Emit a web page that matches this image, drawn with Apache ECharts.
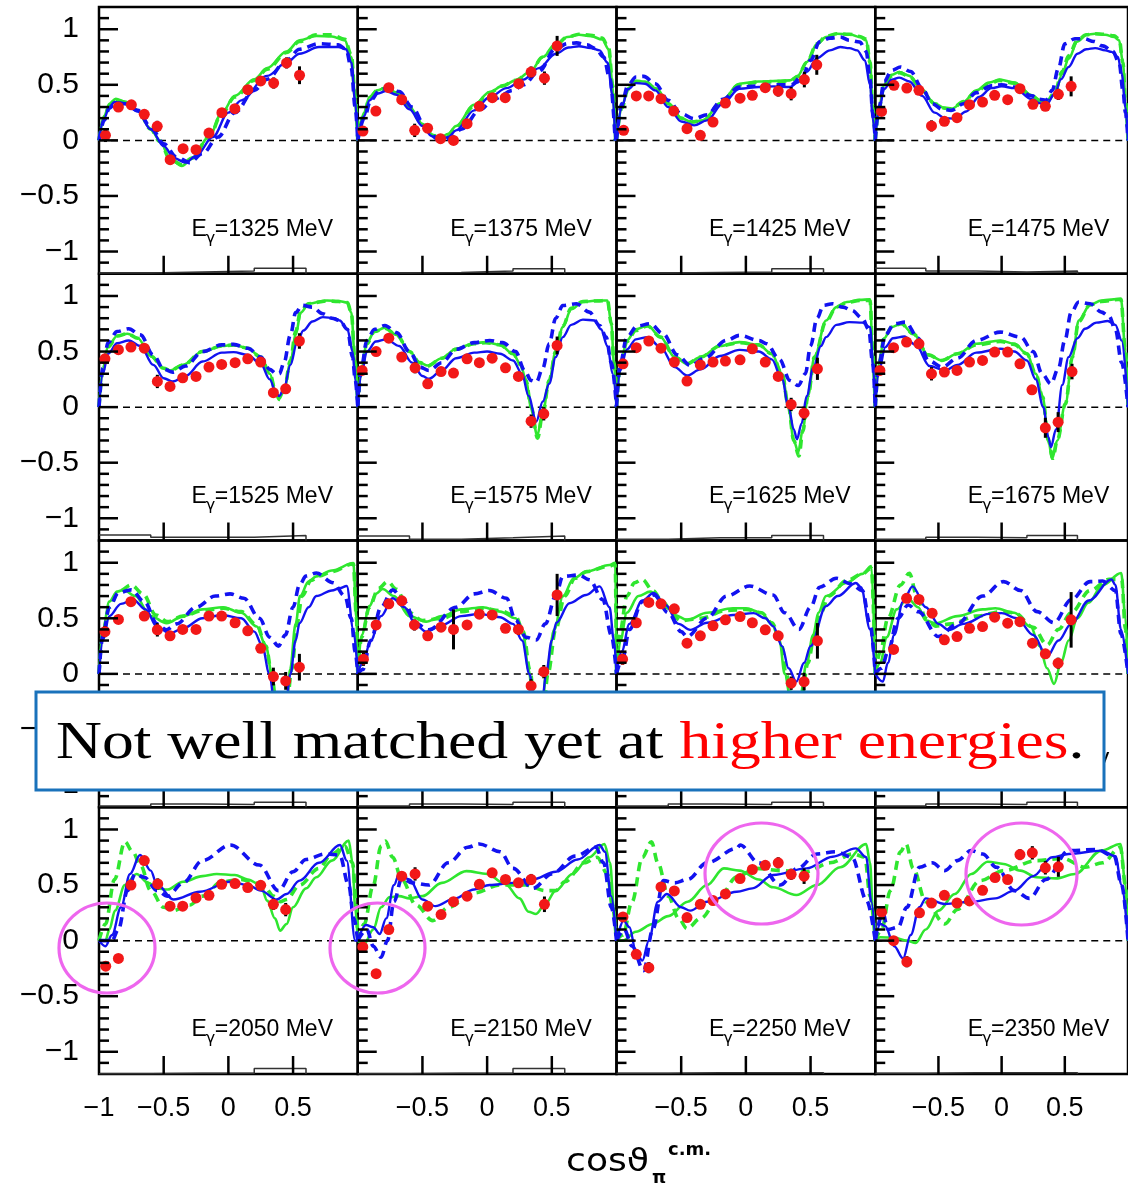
<!DOCTYPE html>
<html><head><meta charset="utf-8">
<script src="https://cdn.jsdelivr.net/npm/echarts@6/dist/echarts.min.js"></script>
<style>html,body{margin:0;padding:0;background:#fff}#c{width:1128px;height:1183px}</style>
</head><body><div id="c"></div>
<script>
// ---------------- data ----------------
const energies = [1325,1375,1425,1475, 1525,1575,1625,1675, 1725,1775,1850,1950, 2050,2150,2250,2350];
const yMajorTicks = [-1,-0.5,0,0.5,1];
const yMinorTicks = [-1.1,-0.9,-0.8,-0.7,-0.6,-0.4,-0.3,-0.2,-0.1,0.1,0.2,0.3,0.4,0.6,0.7,0.8,0.9,1.1];
const xMajorTicks = [-0.5,0,0.5];
const xLabelsFirstCol = [-1,-0.5,0,0.5];
const xLabelsOtherCols = [-0.5,0,0.5];
const sysBinEdges = [-1,-0.6,-0.2,0.2,0.6];

// measured points: [cos theta, value, error]
const dataPts = [
 [[-0.95,0.045,0.06],[-0.85,0.30,0.03],[-0.75,0.32,0.03],[-0.65,0.234,0.04],[-0.55,0.126,0.05],[-0.45,-0.174,0.04],[-0.35,-0.075,0.04],[-0.25,-0.084,0.04],[-0.15,0.066,0.04],[-0.05,0.249,0.04],[0.05,0.285,0.04],[0.15,0.456,0.04],[0.25,0.535,0.04],[0.35,0.516,0.05],[0.45,0.697,0.05],[0.55,0.586,0.08]],
 [[-0.96,0.084,0.04],[-0.86,0.264,0.03],[-0.76,0.474,0.03],[-0.66,0.366,0.04],[-0.56,0.09,0.06],[-0.46,0.11,0.04],[-0.36,0.015,0.04],[-0.26,0.0,0.03],[-0.155,0.15,0.03],[-0.06,0.306,0.03],[0.04,0.384,0.03],[0.14,0.384,0.03],[0.245,0.51,0.04],[0.34,0.615,0.05],[0.443,0.56,0.06],[0.541,0.85,0.09]],
 [[-0.945,0.09,0.04],[-0.847,0.40,0.03],[-0.751,0.40,0.03],[-0.656,0.375,0.04],[-0.558,0.264,0.04],[-0.455,0.105,0.04],[-0.352,0.045,0.04],[-0.254,0.165,0.04],[-0.158,0.336,0.04],[-0.045,0.38,0.04],[0.05,0.405,0.04],[0.15,0.474,0.04],[0.25,0.444,0.05],[0.35,0.42,0.06],[0.452,0.547,0.07],[0.548,0.68,0.09]],
 [[-0.95,0.26,0.04],[-0.852,0.495,0.03],[-0.75,0.471,0.03],[-0.654,0.45,0.03],[-0.555,0.13,0.05],[-0.453,0.171,0.03],[-0.353,0.204,0.03],[-0.254,0.321,0.03],[-0.151,0.345,0.03],[-0.055,0.405,0.03],[0.048,0.366,0.03],[0.145,0.465,0.03],[0.248,0.324,0.04],[0.346,0.306,0.04],[0.449,0.414,0.05],[0.55,0.486,0.09]],
 [[-0.954,0.435,0.04],[-0.85,0.517,0.03],[-0.753,0.54,0.03],[-0.65,0.53,0.03],[-0.549,0.231,0.06],[-0.451,0.186,0.03],[-0.353,0.264,0.03],[-0.25,0.276,0.03],[-0.15,0.36,0.03],[-0.052,0.384,0.03],[0.052,0.40,0.03],[0.15,0.435,0.03],[0.25,0.405,0.03],[0.348,0.13,0.04],[0.443,0.165,0.04],[0.549,0.595,0.07]],
 [[-0.966,0.33,0.04],[-0.858,0.50,0.03],[-0.76,0.62,0.03],[-0.66,0.45,0.03],[-0.557,0.354,0.05],[-0.459,0.21,0.03],[-0.356,0.32,0.03],[-0.26,0.306,0.03],[-0.155,0.435,0.03],[-0.06,0.40,0.03],[0.039,0.44,0.03],[0.142,0.354,0.03],[0.242,0.276,0.04],[0.34,-0.126,0.06],[0.438,-0.06,0.06],[0.541,0.555,0.08]],
 [[-0.95,0.39,0.04],[-0.847,0.535,0.03],[-0.75,0.595,0.03],[-0.656,0.53,0.03],[-0.553,0.405,0.03],[-0.455,0.234,0.03],[-0.352,0.38,0.03],[-0.254,0.405,0.03],[-0.158,0.414,0.03],[-0.045,0.426,0.03],[0.05,0.525,0.03],[0.15,0.405,0.03],[0.25,0.276,0.04],[0.35,0.024,0.06],[0.45,-0.054,0.06],[0.553,0.345,0.1]],
 [[-0.963,0.33,0.04],[-0.855,0.535,0.03],[-0.752,0.585,0.03],[-0.654,0.57,0.04],[-0.555,0.30,0.06],[-0.453,0.315,0.03],[-0.353,0.33,0.03],[-0.254,0.405,0.03],[-0.151,0.42,0.03],[-0.055,0.495,0.03],[0.048,0.495,0.03],[0.145,0.39,0.03],[0.24,0.156,0.04],[0.346,-0.186,0.09],[0.447,-0.135,0.09],[0.557,0.32,0.07]],
 [[-0.954,0.38,0.05],[-0.85,0.49,0.04],[-0.753,0.65,0.03],[-0.65,0.52,0.03],[-0.549,0.396,0.06],[-0.451,0.342,0.03],[-0.353,0.40,0.03],[-0.25,0.40,0.03],[-0.15,0.52,0.03],[-0.052,0.52,0.03],[0.052,0.46,0.03],[0.15,0.387,0.03],[0.25,0.23,0.04],[0.348,-0.024,0.08],[0.443,-0.063,0.08],[0.549,0.06,0.12]],
 [[-0.956,0.132,0.06],[-0.858,0.44,0.04],[-0.76,0.63,0.03],[-0.66,0.657,0.04],[-0.562,0.44,0.05],[-0.459,0.342,0.03],[-0.356,0.42,0.03],[-0.26,0.40,0.18],[-0.155,0.44,0.03],[-0.06,0.537,0.03],[0.039,0.53,0.03],[0.142,0.41,0.03],[0.242,0.40,0.05],[0.34,-0.108,0.06],[0.438,0.02,0.06],[0.541,0.71,0.19]],
 [[-0.953,0.132,0.05],[-0.847,0.46,0.04],[-0.75,0.643,0.03],[-0.656,0.63,0.03],[-0.553,0.585,0.04],[-0.455,0.276,0.03],[-0.352,0.342,0.03],[-0.254,0.432,0.03],[-0.158,0.486,0.03],[-0.045,0.516,0.03],[0.05,0.46,0.03],[0.15,0.396,0.03],[0.25,0.342,0.04],[0.35,-0.084,0.06],[0.45,-0.07,0.08],[0.553,0.297,0.16]],
 [[-0.855,0.22,0.04],[-0.752,0.68,0.03],[-0.654,0.67,0.03],[-0.55,0.546,0.04],[-0.453,0.306,0.03],[-0.353,0.336,0.03],[-0.254,0.41,0.03],[-0.151,0.426,0.03],[-0.055,0.51,0.03],[0.048,0.456,0.03],[0.145,0.47,0.03],[0.244,0.276,0.04],[0.346,0.18,0.04],[0.447,0.096,0.05],[0.55,0.486,0.25]],
 [[-0.948,-0.23,0.04],[-0.85,-0.16,0.04],[-0.753,0.5,0.04],[-0.65,0.72,0.04],[-0.546,0.51,0.05],[-0.451,0.31,0.04],[-0.353,0.31,0.03],[-0.25,0.384,0.03],[-0.15,0.408,0.03],[-0.052,0.507,0.03],[0.052,0.513,0.03],[0.15,0.477,0.03],[0.25,0.498,0.04],[0.348,0.327,0.05],[0.443,0.279,0.06]],
 [[-0.961,-0.057,0.04],[-0.858,-0.297,0.04],[-0.76,0.099,0.04],[-0.66,0.58,0.04],[-0.557,0.6,0.06],[-0.459,0.31,0.04],[-0.356,0.234,0.03],[-0.26,0.35,0.03],[-0.155,0.40,0.03],[-0.06,0.507,0.03],[0.039,0.61,0.03],[0.142,0.55,0.03],[0.242,0.52,0.04],[0.34,0.55,0.05],[0.443,0.327,0.07]],
 [[-0.95,0.213,0.04],[-0.847,-0.123,0.04],[-0.75,-0.243,0.05],[-0.656,0.483,0.04],[-0.553,0.447,0.04],[-0.455,0.207,0.04],[-0.352,0.327,0.03],[-0.254,0.36,0.03],[-0.158,0.42,0.03],[-0.045,0.558,0.03],[0.05,0.64,0.03],[0.15,0.678,0.04],[0.25,0.70,0.05],[0.35,0.597,0.05],[0.45,0.58,0.07]],
 [[-0.95,0.256,0.04],[-0.855,0.0,0.04],[-0.75,-0.19,0.05],[-0.65,0.25,0.04],[-0.555,0.338,0.04],[-0.453,0.408,0.04],[-0.353,0.338,0.03],[-0.254,0.357,0.03],[-0.151,0.453,0.03],[-0.052,0.567,0.03],[0.048,0.55,0.04],[0.145,0.774,0.05],[0.243,0.79,0.06],[0.346,0.655,0.06],[0.449,0.664,0.09]]
];

const greenSolid = [
 [[-1,0],[-0.96,0.22],[-0.92,0.33],[-0.87,0.375],[-0.8,0.35],[-0.7,0.27],[-0.6,0.1],[-0.53,0],[-0.45,-0.17],[-0.36,-0.23],[-0.28,-0.16],[-0.15,0.03],[-0.05,0.25],[0.05,0.4],[0.2,0.55],[0.3,0.65],[0.45,0.8],[0.55,0.9],[0.68,0.94],[0.8,0.935],[0.9,0.9],[0.95,0.75],[0.98,0.4],[1,0]],
 [[-1,0],[-0.95,0.25],[-0.91,0.39],[-0.85,0.45],[-0.78,0.474],[-0.7,0.43],[-0.6,0.3],[-0.5,0.15],[-0.42,0.05],[-0.37,0.015],[-0.3,0.06],[-0.24,0.13],[-0.1,0.32],[0.02,0.435],[0.12,0.49],[0.22,0.54],[0.33,0.615],[0.43,0.75],[0.53,0.856],[0.62,0.93],[0.71,0.95],[0.8,0.94],[0.89,0.907],[0.94,0.82],[0.97,0.5],[0.99,0]],
 [[-1,0],[-0.96,0.3],[-0.91,0.47],[-0.85,0.535],[-0.78,0.53],[-0.7,0.47],[-0.6,0.33],[-0.5,0.2],[-0.42,0.165],[-0.33,0.18],[-0.2,0.33],[-0.05,0.51],[0.1,0.53],[0.25,0.535],[0.34,0.54],[0.4,0.58],[0.47,0.705],[0.55,0.87],[0.62,0.93],[0.7,0.96],[0.8,0.955],[0.88,0.93],[0.93,0.9],[0.96,0.7],[0.98,0.3],[1,0]],
 [[-1,0],[-0.97,0.3],[-0.93,0.5],[-0.87,0.59],[-0.81,0.615],[-0.73,0.58],[-0.63,0.45],[-0.53,0.33],[-0.45,0.29],[-0.396,0.285],[-0.3,0.35],[-0.2,0.45],[-0.1,0.52],[-0.017,0.547],[0.1,0.52],[0.24,0.405],[0.3,0.36],[0.356,0.345],[0.42,0.42],[0.48,0.6],[0.53,0.735],[0.6,0.89],[0.67,0.95],[0.737,0.96],[0.82,0.95],[0.89,0.93],[0.93,0.9],[0.96,0.7],[0.98,0.35],[1,0]],
 [[-1,0],[-0.97,0.35],[-0.93,0.55],[-0.86,0.64],[-0.78,0.66],[-0.7,0.62],[-0.6,0.46],[-0.5,0.35],[-0.45,0.33],[-0.35,0.38],[-0.2,0.5],[-0.05,0.55],[0.04,0.56],[0.15,0.53],[0.25,0.45],[0.32,0.3],[0.37,0.12],[0.394,0.075],[0.43,0.15],[0.48,0.4],[0.52,0.65],[0.56,0.85],[0.62,0.93],[0.76,0.96],[0.85,0.955],[0.92,0.94],[0.95,0.85],[0.98,0.4],[1,0]],
 [[-1,0],[-0.97,0.35],[-0.93,0.58],[-0.87,0.68],[-0.79,0.715],[-0.7,0.65],[-0.6,0.5],[-0.52,0.4],[-0.46,0.375],[-0.35,0.44],[-0.24,0.525],[-0.1,0.575],[-0.01,0.585],[0.1,0.56],[0.2,0.48],[0.26,0.38],[0.3,0.24],[0.34,0.0],[0.387,-0.255],[0.43,-0.05],[0.48,0.24],[0.53,0.5],[0.585,0.72],[0.65,0.88],[0.74,0.946],[0.85,0.96],[0.93,0.96],[0.96,0.75],[0.98,0.4],[1,0]],
 [[-1,0],[-0.97,0.38],[-0.92,0.6],[-0.85,0.7],[-0.76,0.735],[-0.66,0.63],[-0.55,0.45],[-0.455,0.39],[-0.35,0.45],[-0.2,0.55],[-0.05,0.585],[0.1,0.56],[0.2,0.48],[0.28,0.3],[0.33,0.0],[0.37,-0.3],[0.405,-0.405],[0.44,-0.2],[0.48,0.1],[0.53,0.45],[0.62,0.78],[0.7,0.9],[0.78,0.946],[0.88,0.965],[0.96,0.97],[0.98,0.5],[1,0]],
 [[-1,0],[-0.97,0.4],[-0.93,0.62],[-0.87,0.72],[-0.795,0.75],[-0.7,0.66],[-0.58,0.47],[-0.474,0.42],[-0.35,0.48],[-0.2,0.57],[-0.01,0.6],[0.1,0.57],[0.2,0.48],[0.27,0.3],[0.325,0.09],[0.37,-0.3],[0.4,-0.465],[0.44,-0.3],[0.505,0.03],[0.56,0.45],[0.61,0.78],[0.7,0.92],[0.79,0.96],[0.944,0.975],[0.98,0.5],[1,0]],
 [[-1,0],[-0.97,0.4],[-0.92,0.65],[-0.86,0.74],[-0.81,0.756],[-0.72,0.7],[-0.6,0.52],[-0.477,0.456],[-0.35,0.52],[-0.2,0.58],[-0.04,0.6],[0.1,0.55],[0.22,0.426],[0.29,0.25],[0.336,0.0],[0.37,-0.3],[0.42,-0.5],[0.45,-0.3],[0.477,0.04],[0.52,0.45],[0.554,0.70],[0.62,0.83],[0.68,0.877],[0.8,0.93],[0.966,0.997],[0.99,0.5],[1,0]],
 [[-1,0],[-0.97,0.35],[-0.91,0.61],[-0.86,0.72],[-0.807,0.763],[-0.72,0.7],[-0.6,0.52],[-0.472,0.47],[-0.35,0.52],[-0.2,0.58],[-0.034,0.60],[0.1,0.56],[0.22,0.5],[0.28,0.35],[0.32,0.037],[0.36,-0.3],[0.4,-0.45],[0.43,-0.25],[0.455,0],[0.52,0.4],[0.585,0.697],[0.67,0.86],[0.765,0.92],[0.946,0.98],[0.99,1.0],[1,0]],
 [[-1,0],[-0.97,0.3],[-0.92,0.55],[-0.83,0.7],[-0.74,0.74],[-0.64,0.65],[-0.55,0.53],[-0.455,0.486],[-0.3,0.55],[-0.1,0.59],[0.0,0.59],[0.12,0.55],[0.2,0.45],[0.26,0.3],[0.3,0.0],[0.35,-0.25],[0.38,-0.3],[0.42,-0.2],[0.47,0.1],[0.52,0.35],[0.56,0.55],[0.62,0.70],[0.78,0.82],[0.9,0.9],[0.97,0.97],[1,0]],
 [[-1,0],[-0.96,0.1],[-0.91,0.33],[-0.83,0.58],[-0.744,0.68],[-0.66,0.6],[-0.6,0.48],[-0.52,0.456],[-0.35,0.52],[-0.15,0.58],[-0.05,0.59],[0.1,0.55],[0.23,0.425],[0.3,0.25],[0.36,0.05],[0.415,-0.09],[0.47,0.1],[0.53,0.30],[0.6,0.5],[0.686,0.64],[0.8,0.8],[0.946,0.907],[0.98,0.5],[1,0]],
 [[-1,0],[-0.95,0.0],[-0.92,0.1],[-0.876,0.27],[-0.8,0.5],[-0.71,0.6],[-0.62,0.52],[-0.55,0.47],[-0.47,0.46],[-0.35,0.53],[-0.2,0.58],[-0.09,0.6],[0.05,0.59],[0.15,0.55],[0.25,0.5],[0.3,0.36],[0.36,0.2],[0.4,0.09],[0.45,0.15],[0.5,0.3],[0.6,0.47],[0.68,0.57],[0.8,0.72],[0.93,0.9],[0.96,0.7],[0.98,0.3],[1,0]],
 [[-1,0],[-0.95,-0.03],[-0.88,0.1],[-0.82,0.3],[-0.755,0.39],[-0.68,0.4],[-0.6,0.38],[-0.5,0.4],[-0.35,0.52],[-0.16,0.625],[0.0,0.6],[0.14,0.51],[0.25,0.38],[0.32,0.26],[0.378,0.24],[0.45,0.33],[0.53,0.45],[0.66,0.6],[0.79,0.75],[0.907,0.87],[0.95,0.7],[0.98,0.3],[1,0]],
 [[-1,0],[-0.95,0.0],[-0.85,0.08],[-0.72,0.15],[-0.6,0.22],[-0.45,0.35],[-0.3,0.5],[-0.17,0.65],[-0.05,0.63],[0.1,0.55],[0.21,0.48],[0.39,0.41],[0.55,0.5],[0.73,0.66],[0.93,0.87],[0.96,0.7],[0.98,0.3],[1,0]],
 [[-1,0],[-0.96,0.03],[-0.85,0.027],[-0.75,0.0],[-0.68,-0.02],[-0.6,0.1],[-0.5,0.27],[-0.37,0.42],[-0.24,0.6],[-0.11,0.71],[0.016,0.69],[0.15,0.63],[0.275,0.57],[0.43,0.56],[0.58,0.6],[0.79,0.81],[0.94,0.87],[0.98,0.5],[1,0]]
];

const greenDashed = [
 [[-1,0],[-0.96,0.2],[-0.92,0.31],[-0.87,0.36],[-0.8,0.345],[-0.7,0.27],[-0.6,0.1],[-0.53,-0.01],[-0.45,-0.17],[-0.36,-0.22],[-0.28,-0.16],[-0.15,0.03],[-0.05,0.24],[0.05,0.39],[0.2,0.54],[0.3,0.64],[0.45,0.79],[0.55,0.89],[0.68,0.95],[0.8,0.95],[0.9,0.91],[0.95,0.77],[0.98,0.4],[1,0]],
 [[-1,0],[-0.95,0.24],[-0.91,0.38],[-0.85,0.45],[-0.78,0.47],[-0.7,0.43],[-0.6,0.3],[-0.5,0.15],[-0.42,0.05],[-0.37,0.01],[-0.3,0.05],[-0.24,0.12],[-0.1,0.31],[0.02,0.43],[0.12,0.49],[0.22,0.54],[0.33,0.61],[0.43,0.75],[0.53,0.86],[0.62,0.93],[0.71,0.955],[0.8,0.945],[0.89,0.92],[0.94,0.83],[0.97,0.5],[0.99,0]],
 [[-1,0],[-0.96,0.29],[-0.91,0.46],[-0.85,0.53],[-0.78,0.53],[-0.7,0.47],[-0.6,0.33],[-0.5,0.2],[-0.42,0.165],[-0.33,0.18],[-0.2,0.33],[-0.05,0.5],[0.1,0.525],[0.25,0.53],[0.34,0.535],[0.4,0.57],[0.47,0.7],[0.55,0.87],[0.62,0.935],[0.7,0.96],[0.8,0.955],[0.88,0.935],[0.93,0.91],[0.96,0.7],[0.98,0.3],[1,0]],
 [[-1,0],[-0.97,0.29],[-0.93,0.49],[-0.87,0.58],[-0.81,0.61],[-0.73,0.575],[-0.63,0.45],[-0.53,0.33],[-0.45,0.29],[-0.396,0.285],[-0.3,0.35],[-0.2,0.44],[-0.1,0.51],[-0.017,0.54],[0.1,0.515],[0.24,0.4],[0.3,0.36],[0.356,0.345],[0.42,0.43],[0.48,0.62],[0.53,0.76],[0.6,0.9],[0.67,0.95],[0.737,0.96],[0.82,0.955],[0.89,0.94],[0.93,0.91],[0.96,0.7],[0.98,0.35],[1,0]],
 [[-1,0],[-0.97,0.33],[-0.93,0.54],[-0.86,0.64],[-0.78,0.66],[-0.7,0.62],[-0.6,0.46],[-0.5,0.35],[-0.45,0.33],[-0.35,0.38],[-0.2,0.5],[-0.05,0.55],[0.04,0.56],[0.15,0.53],[0.25,0.45],[0.32,0.3],[0.37,0.12],[0.394,0.07],[0.43,0.15],[0.48,0.42],[0.52,0.68],[0.56,0.87],[0.62,0.93],[0.76,0.955],[0.85,0.95],[0.92,0.94],[0.95,0.85],[0.98,0.4],[1,0]],
 [[-1,0],[-0.97,0.34],[-0.93,0.57],[-0.87,0.68],[-0.79,0.71],[-0.7,0.65],[-0.6,0.5],[-0.52,0.4],[-0.46,0.37],[-0.35,0.44],[-0.24,0.52],[-0.1,0.57],[-0.01,0.58],[0.1,0.56],[0.2,0.48],[0.26,0.38],[0.3,0.24],[0.34,0.0],[0.39,-0.28],[0.43,-0.06],[0.48,0.24],[0.53,0.5],[0.585,0.73],[0.65,0.89],[0.74,0.95],[0.85,0.955],[0.93,0.96],[0.96,0.75],[0.98,0.4],[1,0]],
 [[-1,0],[-0.97,0.37],[-0.92,0.59],[-0.85,0.69],[-0.76,0.73],[-0.66,0.63],[-0.55,0.45],[-0.455,0.39],[-0.35,0.45],[-0.2,0.55],[-0.05,0.58],[0.1,0.56],[0.2,0.48],[0.28,0.3],[0.33,0.0],[0.37,-0.3],[0.41,-0.44],[0.44,-0.22],[0.48,0.1],[0.53,0.45],[0.62,0.77],[0.7,0.9],[0.78,0.94],[0.88,0.96],[0.96,0.96],[0.98,0.5],[1,0]],
 [[-1,0],[-0.97,0.4],[-0.93,0.62],[-0.87,0.72],[-0.795,0.75],[-0.7,0.66],[-0.58,0.47],[-0.474,0.42],[-0.35,0.48],[-0.2,0.56],[-0.01,0.59],[0.1,0.565],[0.2,0.48],[0.27,0.3],[0.325,0.09],[0.37,-0.3],[0.405,-0.46],[0.44,-0.3],[0.505,0.03],[0.56,0.45],[0.61,0.77],[0.7,0.92],[0.79,0.95],[0.944,0.97],[0.98,0.5],[1,0]],
 [[-1,0],[-0.97,0.38],[-0.92,0.6],[-0.85,0.74],[-0.75,0.80],[-0.66,0.72],[-0.56,0.53],[-0.47,0.47],[-0.35,0.52],[-0.2,0.57],[-0.04,0.59],[0.1,0.56],[0.22,0.44],[0.29,0.25],[0.336,0.0],[0.37,-0.3],[0.42,-0.5],[0.45,-0.3],[0.49,0.04],[0.53,0.45],[0.57,0.70],[0.64,0.84],[0.7,0.88],[0.8,0.92],[0.966,0.99],[0.99,0.5],[1,0]],
 [[-1,0],[-0.97,0.33],[-0.91,0.6],[-0.84,0.77],[-0.768,0.83],[-0.7,0.76],[-0.6,0.55],[-0.5,0.48],[-0.35,0.5],[-0.2,0.56],[-0.03,0.59],[0.1,0.57],[0.22,0.52],[0.28,0.38],[0.33,0.037],[0.37,-0.3],[0.41,-0.45],[0.44,-0.25],[0.47,0],[0.53,0.4],[0.6,0.7],[0.68,0.86],[0.77,0.92],[0.946,0.97],[0.99,0.99],[1,0]],
 [[-1,0],[-0.97,0.4],[-0.92,0.7],[-0.86,0.82],[-0.8,0.85],[-0.72,0.75],[-0.62,0.6],[-0.5,0.48],[-0.35,0.5],[-0.15,0.57],[0.0,0.58],[0.12,0.55],[0.2,0.46],[0.27,0.3],[0.31,0.0],[0.36,-0.25],[0.39,-0.3],[0.43,-0.2],[0.48,0.1],[0.53,0.35],[0.58,0.55],[0.64,0.70],[0.78,0.84],[0.9,0.9],[0.97,0.95],[1,0]],
 [[-1,0],[-0.96,0.2],[-0.9,0.5],[-0.8,0.8],[-0.73,0.906],[-0.67,0.7],[-0.6,0.5],[-0.52,0.43],[-0.4,0.45],[-0.2,0.52],[0.0,0.56],[0.1,0.55],[0.25,0.42],[0.36,0.26],[0.45,0.4],[0.55,0.55],[0.7,0.75],[0.85,0.85],[0.95,0.85],[0.98,0.4],[1,0]],
 [[-1,0],[-0.95,0.15],[-0.88,0.55],[-0.8,0.89],[-0.74,0.8],[-0.68,0.68],[-0.6,0.45],[-0.5,0.3],[-0.43,0.27],[-0.3,0.32],[-0.2,0.4],[-0.05,0.53],[0.1,0.55],[0.2,0.52],[0.28,0.48],[0.35,0.4],[0.4,0.35],[0.45,0.37],[0.55,0.5],[0.7,0.65],[0.8,0.78],[0.9,0.85],[0.96,0.7],[0.99,0.3],[1,0]],
 [[-1,0],[-0.95,0.15],[-0.88,0.5],[-0.82,0.85],[-0.786,0.895],[-0.73,0.75],[-0.66,0.55],[-0.55,0.32],[-0.42,0.18],[-0.3,0.3],[-0.1,0.43],[0.1,0.5],[0.3,0.5],[0.45,0.45],[0.53,0.45],[0.6,0.53],[0.75,0.7],[0.85,0.75],[0.93,0.6],[0.97,0.3],[1,0]],
 [[-1,0],[-0.95,0.05],[-0.88,0.35],[-0.8,0.75],[-0.73,0.89],[-0.68,0.7],[-0.6,0.4],[-0.52,0.2],[-0.455,0.108],[-0.35,0.2],[-0.2,0.4],[-0.07,0.574],[0.08,0.65],[0.27,0.63],[0.47,0.62],[0.65,0.7],[0.83,0.78],[0.92,0.75],[0.96,0.4],[1,0]],
 [[-1,0],[-0.95,0.1],[-0.88,0.45],[-0.8,0.8],[-0.757,0.87],[-0.7,0.65],[-0.6,0.35],[-0.45,0.15],[-0.35,0.28],[-0.17,0.54],[0.016,0.63],[0.275,0.72],[0.48,0.74],[0.66,0.66],[0.8,0.7],[0.94,0.84],[0.98,0.5],[1,0]]
];

const blueSolid = [
 [[-1,0],[-0.96,0.2],[-0.92,0.3],[-0.88,0.345],[-0.8,0.33],[-0.7,0.26],[-0.6,0.1],[-0.5,-0.05],[-0.42,-0.16],[-0.33,-0.2],[-0.25,-0.14],[-0.12,0.03],[0,0.25],[0.1,0.36],[0.3,0.58],[0.45,0.7],[0.55,0.78],[0.7,0.84],[0.85,0.84],[0.91,0.82],[0.95,0.7],[0.98,0.35],[1,0]],
 [[-1,0],[-0.95,0.22],[-0.91,0.36],[-0.85,0.42],[-0.78,0.444],[-0.7,0.41],[-0.6,0.28],[-0.5,0.13],[-0.43,0.04],[-0.38,0.0],[-0.3,0.03],[-0.24,0.09],[-0.1,0.27],[0.02,0.39],[0.15,0.47],[0.28,0.547],[0.4,0.65],[0.53,0.78],[0.63,0.835],[0.71,0.847],[0.8,0.83],[0.87,0.81],[0.93,0.7],[0.97,0.4],[0.99,0]],
 [[-1,0],[-0.96,0.3],[-0.91,0.46],[-0.85,0.515],[-0.78,0.51],[-0.7,0.45],[-0.6,0.3],[-0.5,0.17],[-0.4,0.135],[-0.3,0.18],[-0.18,0.33],[-0.05,0.465],[0.1,0.48],[0.21,0.486],[0.34,0.48],[0.4,0.52],[0.47,0.616],[0.55,0.74],[0.65,0.81],[0.73,0.84],[0.8,0.83],[0.86,0.81],[0.92,0.72],[0.96,0.5],[0.98,0.2],[1,0]],
 [[-1,0],[-0.97,0.27],[-0.93,0.46],[-0.87,0.545],[-0.81,0.565],[-0.73,0.53],[-0.63,0.4],[-0.53,0.25],[-0.45,0.2],[-0.37,0.195],[-0.28,0.26],[-0.18,0.39],[-0.08,0.47],[0.0,0.486],[0.1,0.47],[0.24,0.37],[0.3,0.335],[0.356,0.325],[0.42,0.42],[0.47,0.55],[0.53,0.66],[0.6,0.78],[0.67,0.82],[0.74,0.83],[0.82,0.81],[0.87,0.796],[0.92,0.75],[0.95,0.6],[0.98,0.3],[1,0]],
 [[-1,0],[-0.97,0.3],[-0.93,0.48],[-0.86,0.575],[-0.77,0.6],[-0.68,0.55],[-0.58,0.38],[-0.5,0.26],[-0.43,0.23],[-0.33,0.28],[-0.2,0.41],[-0.05,0.49],[0.04,0.495],[0.15,0.47],[0.25,0.39],[0.32,0.25],[0.37,0.12],[0.394,0.1],[0.43,0.17],[0.48,0.38],[0.53,0.58],[0.58,0.69],[0.65,0.77],[0.73,0.81],[0.82,0.8],[0.86,0.78],[0.92,0.7],[0.96,0.5],[0.98,0.25],[1,0]],
 [[-1,0],[-0.97,0.3],[-0.93,0.5],[-0.86,0.59],[-0.78,0.61],[-0.68,0.55],[-0.58,0.4],[-0.5,0.28],[-0.45,0.255],[-0.35,0.33],[-0.24,0.44],[-0.1,0.49],[0.0,0.5],[0.1,0.48],[0.2,0.42],[0.27,0.3],[0.32,0.1],[0.38,-0.13],[0.43,0.05],[0.48,0.21],[0.53,0.45],[0.585,0.63],[0.65,0.74],[0.74,0.787],[0.83,0.78],[0.88,0.7],[0.93,0.55],[0.97,0.3],[1,0]],
 [[-1,0],[-0.97,0.33],[-0.92,0.52],[-0.85,0.61],[-0.76,0.63],[-0.66,0.54],[-0.55,0.36],[-0.455,0.285],[-0.35,0.34],[-0.2,0.46],[-0.05,0.515],[0.1,0.5],[0.2,0.43],[0.28,0.25],[0.33,0.0],[0.37,-0.2],[0.395,-0.29],[0.43,-0.15],[0.47,0.1],[0.52,0.35],[0.58,0.55],[0.62,0.63],[0.7,0.74],[0.8,0.765],[0.9,0.76],[0.96,0.72],[0.985,0.35],[1,0]],
 [[-1,0],[-0.97,0.33],[-0.92,0.54],[-0.86,0.62],[-0.77,0.635],[-0.68,0.56],[-0.57,0.37],[-0.45,0.33],[-0.35,0.38],[-0.2,0.49],[-0.01,0.525],[0.1,0.5],[0.2,0.42],[0.27,0.25],[0.33,0.0],[0.37,-0.27],[0.39,-0.36],[0.43,-0.2],[0.48,0.2],[0.53,0.45],[0.6,0.62],[0.66,0.705],[0.75,0.76],[0.84,0.775],[0.9,0.74],[0.95,0.6],[1,0]],
 [[-1,0],[-0.97,0.3],[-0.92,0.52],[-0.83,0.63],[-0.735,0.667],[-0.64,0.58],[-0.55,0.42],[-0.45,0.366],[-0.35,0.41],[-0.2,0.5],[-0.05,0.53],[0.1,0.5],[0.2,0.38],[0.26,0.26],[0.317,0.0],[0.36,-0.3],[0.4,-0.45],[0.44,-0.3],[0.48,0.0],[0.52,0.3],[0.55,0.456],[0.62,0.6],[0.68,0.7],[0.8,0.75],[0.86,0.77],[0.915,0.79],[0.966,0.4],[1,0]],
 [[-1,0],[-0.96,0.1],[-0.9,0.3],[-0.82,0.52],[-0.73,0.68],[-0.64,0.6],[-0.55,0.44],[-0.472,0.38],[-0.35,0.44],[-0.2,0.52],[-0.06,0.54],[0.1,0.51],[0.2,0.45],[0.27,0.3],[0.327,0.0],[0.37,-0.3],[0.4,-0.4],[0.43,-0.2],[0.455,0.0],[0.5,0.3],[0.535,0.46],[0.636,0.636],[0.765,0.71],[0.87,0.787],[0.946,0.6],[0.98,0.3],[1,0]],
 [[-1,0],[-0.96,0.2],[-0.9,0.45],[-0.8,0.66],[-0.713,0.727],[-0.62,0.62],[-0.52,0.45],[-0.43,0.396],[-0.3,0.46],[-0.1,0.53],[0.06,0.547],[0.15,0.5],[0.21,0.43],[0.28,0.25],[0.33,0.05],[0.39,-0.07],[0.45,0.1],[0.5,0.25],[0.62,0.61],[0.71,0.70],[0.85,0.817],[0.89,0.78],[0.96,0.4],[1,0]],
 [[-1,0],[-0.94,-0.07],[-0.9,0.1],[-0.85,0.35],[-0.78,0.65],[-0.705,0.787],[-0.6,0.6],[-0.5,0.45],[-0.42,0.396],[-0.3,0.45],[-0.1,0.54],[0.0,0.547],[0.12,0.5],[0.25,0.35],[0.36,0.156],[0.45,0.3],[0.55,0.45],[0.69,0.66],[0.87,0.85],[0.9,0.8],[0.944,0.4],[1,0]],
 [[-1,0],[-0.95,-0.05],[-0.9,0.05],[-0.83,0.3],[-0.76,0.6],[-0.683,0.77],[-0.6,0.63],[-0.554,0.51],[-0.425,0.37],[-0.22,0.44],[0.013,0.53],[0.15,0.5],[0.25,0.45],[0.374,0.37],[0.45,0.42],[0.55,0.54],[0.7,0.7],[0.863,0.86],[0.915,0.72],[0.98,0],[1,0]],
 [[-1,0],[-0.936,0.14],[-0.88,0.12],[-0.83,0.06],[-0.78,0.2],[-0.72,0.5],[-0.68,0.6],[-0.6,0.55],[-0.5,0.37],[-0.4,0.31],[-0.25,0.38],[-0.1,0.46],[0.02,0.5],[0.2,0.52],[0.35,0.55],[0.53,0.62],[0.7,0.73],[0.87,0.86],[0.91,0.8],[0.96,0.4],[1,0]],
 [[-1,0],[-0.945,0.18],[-0.9,0.12],[-0.85,-0.1],[-0.8,-0.18],[-0.75,0.0],[-0.68,0.35],[-0.61,0.42],[-0.5,0.3],[-0.43,0.27],[-0.3,0.35],[-0.07,0.44],[0.05,0.47],[0.21,0.59],[0.47,0.65],[0.67,0.755],[0.85,0.83],[0.93,0.75],[0.97,0.35],[1,0]],
 [[-1,0],[-0.96,0.15],[-0.92,0.13],[-0.85,-0.05],[-0.78,-0.16],[-0.72,0.05],[-0.65,0.3],[-0.6,0.38],[-0.45,0.33],[-0.24,0.35],[-0.05,0.38],[0.1,0.45],[0.25,0.58],[0.4,0.75],[0.53,0.78],[0.79,0.81],[0.9,0.76],[0.95,0.5],[1,0]]
];

const blueDashed = [
 [[-1,0],[-0.96,0.18],[-0.92,0.29],[-0.87,0.34],[-0.8,0.33],[-0.7,0.27],[-0.6,0.12],[-0.5,-0.03],[-0.4,-0.15],[-0.3,-0.2],[-0.2,-0.12],[-0.08,0.03],[0.05,0.25],[0.2,0.45],[0.3,0.55],[0.45,0.72],[0.55,0.82],[0.7,0.87],[0.85,0.86],[0.91,0.82],[0.95,0.65],[0.98,0.3],[1,0]],
 [[-1,0],[-0.95,0.2],[-0.9,0.36],[-0.83,0.45],[-0.755,0.48],[-0.68,0.44],[-0.58,0.3],[-0.48,0.13],[-0.4,0.03],[-0.35,0.0],[-0.28,0.02],[-0.2,0.1],[-0.05,0.28],[0.05,0.37],[0.2,0.45],[0.28,0.5],[0.4,0.62],[0.53,0.826],[0.62,0.87],[0.69,0.877],[0.77,0.86],[0.84,0.826],[0.9,0.75],[0.95,0.55],[0.99,0]],
 [[-1,0],[-0.96,0.33],[-0.91,0.5],[-0.85,0.57],[-0.79,0.576],[-0.7,0.51],[-0.6,0.36],[-0.5,0.24],[-0.4,0.195],[-0.3,0.23],[-0.18,0.37],[-0.05,0.48],[0.1,0.49],[0.25,0.5],[0.35,0.5],[0.44,0.585],[0.5,0.72],[0.57,0.886],[0.65,0.92],[0.73,0.93],[0.8,0.9],[0.88,0.885],[0.93,0.8],[0.96,0.55],[0.98,0.25],[1,0]],
 [[-1,0],[-0.97,0.3],[-0.93,0.53],[-0.87,0.63],[-0.8,0.66],[-0.72,0.62],[-0.63,0.47],[-0.55,0.33],[-0.47,0.28],[-0.4,0.27],[-0.3,0.33],[-0.2,0.43],[-0.08,0.49],[0.0,0.5],[0.1,0.48],[0.24,0.4],[0.3,0.37],[0.35,0.36],[0.4,0.45],[0.45,0.65],[0.5,0.87],[0.58,0.915],[0.65,0.915],[0.73,0.89],[0.8,0.85],[0.88,0.8],[0.93,0.7],[0.96,0.45],[0.98,0.25],[1,0]],
 [[-1,0],[-0.97,0.35],[-0.93,0.58],[-0.86,0.68],[-0.77,0.705],[-0.68,0.65],[-0.58,0.47],[-0.5,0.34],[-0.43,0.315],[-0.33,0.37],[-0.2,0.5],[-0.05,0.56],[0.04,0.565],[0.15,0.53],[0.25,0.45],[0.32,0.34],[0.37,0.3],[0.394,0.3],[0.43,0.4],[0.48,0.65],[0.52,0.85],[0.57,0.916],[0.65,0.9],[0.73,0.84],[0.8,0.8],[0.86,0.78],[0.92,0.7],[0.96,0.45],[0.98,0.25],[1,0]],
 [[-1,0],[-0.97,0.37],[-0.93,0.6],[-0.87,0.7],[-0.79,0.735],[-0.7,0.67],[-0.6,0.5],[-0.52,0.36],[-0.45,0.33],[-0.35,0.4],[-0.24,0.52],[-0.1,0.58],[0.02,0.6],[0.12,0.58],[0.22,0.5],[0.29,0.33],[0.34,0.24],[0.38,0.225],[0.43,0.35],[0.48,0.57],[0.53,0.8],[0.585,0.915],[0.69,0.93],[0.79,0.855],[0.87,0.735],[0.92,0.63],[0.96,0.4],[1,0]],
 [[-1,0],[-0.97,0.4],[-0.92,0.63],[-0.84,0.73],[-0.74,0.75],[-0.64,0.66],[-0.53,0.47],[-0.43,0.375],[-0.32,0.44],[-0.15,0.6],[-0.05,0.646],[0.1,0.6],[0.16,0.57],[0.26,0.43],[0.34,0.24],[0.405,0.195],[0.46,0.3],[0.5,0.55],[0.55,0.8],[0.6,0.916],[0.67,0.93],[0.75,0.9],[0.82,0.87],[0.9,0.8],[0.95,0.7],[0.98,0.4],[1,0]],
 [[-1,0],[-0.97,0.4],[-0.92,0.65],[-0.85,0.75],[-0.76,0.765],[-0.66,0.62],[-0.58,0.42],[-0.47,0.36],[-0.35,0.44],[-0.2,0.6],[-0.01,0.675],[0.15,0.63],[0.25,0.5],[0.32,0.3],[0.39,0.21],[0.45,0.35],[0.5,0.6],[0.55,0.85],[0.61,0.946],[0.7,0.93],[0.79,0.855],[0.85,0.82],[0.9,0.7],[0.95,0.4],[1,0]],
 [[-1,0],[-0.97,0.35],[-0.92,0.6],[-0.85,0.73],[-0.75,0.756],[-0.65,0.65],[-0.55,0.45],[-0.48,0.396],[-0.4,0.45],[-0.25,0.6],[-0.1,0.7],[0.013,0.72],[0.12,0.68],[0.24,0.5],[0.32,0.33],[0.387,0.25],[0.44,0.35],[0.5,0.6],[0.55,0.8],[0.6,0.88],[0.68,0.907],[0.81,0.82],[0.9,0.7],[0.95,0.5],[0.98,0.2],[1,0]],
 [[-1,0],[-0.96,0.04],[-0.9,0.3],[-0.82,0.6],[-0.73,0.756],[-0.64,0.65],[-0.55,0.45],[-0.45,0.396],[-0.24,0.6],[-0.1,0.72],[0.018,0.75],[0.15,0.68],[0.22,0.485],[0.3,0.33],[0.38,0.306],[0.45,0.45],[0.53,0.7],[0.585,0.877],[0.71,0.89],[0.79,0.847],[0.895,0.667],[0.96,0.35],[1,0]],
 [[-1,0],[-0.95,0.15],[-0.9,0.4],[-0.8,0.65],[-0.71,0.71],[-0.6,0.55],[-0.5,0.38],[-0.455,0.336],[-0.3,0.5],[-0.15,0.7],[0.03,0.79],[0.21,0.71],[0.3,0.55],[0.41,0.40],[0.5,0.6],[0.57,0.78],[0.7,0.86],[0.81,0.81],[0.9,0.75],[0.96,0.45],[1,0]],
 [[-1,0],[-0.95,0.05],[-0.9,0.2],[-0.82,0.5],[-0.74,0.62],[-0.66,0.56],[-0.5,0.336],[-0.35,0.45],[-0.15,0.7],[0.015,0.83],[0.15,0.75],[0.28,0.56],[0.415,0.46],[0.55,0.667],[0.7,0.83],[0.8,0.835],[0.9,0.75],[0.944,0.36],[1,0]],
 [[-1,0],[-0.9,0.0],[-0.85,0.1],[-0.78,0.45],[-0.72,0.6],[-0.65,0.57],[-0.55,0.45],[-0.47,0.4],[-0.35,0.52],[-0.2,0.72],[0.015,0.86],[0.24,0.68],[0.387,0.45],[0.5,0.62],[0.6,0.73],[0.75,0.78],[0.86,0.77],[0.93,0.5],[0.97,0.2],[1,0]],
 [[-1,0],[-0.93,0.1],[-0.88,-0.05],[-0.82,-0.15],[-0.77,0.0],[-0.72,0.35],[-0.66,0.56],[-0.58,0.52],[-0.45,0.5],[-0.3,0.7],[-0.15,0.84],[-0.06,0.87],[0.1,0.8],[0.2,0.65],[0.353,0.47],[0.5,0.6],[0.68,0.76],[0.84,0.84],[0.9,0.7],[0.96,0.3],[1,0]],
 [[-1,0],[-0.94,0.1],[-0.88,-0.05],[-0.79,-0.27],[-0.72,0.1],[-0.636,0.54],[-0.55,0.52],[-0.45,0.55],[-0.3,0.7],[-0.07,0.83],[-0.045,0.86],[0.1,0.7],[0.264,0.5],[0.4,0.65],[0.548,0.78],[0.7,0.8],[0.82,0.75],[0.934,0.36],[1,0]],
 [[-1,0],[-0.94,0.25],[-0.9,0.1],[-0.82,0.12],[-0.75,0.3],[-0.65,0.66],[-0.55,0.7],[-0.45,0.63],[-0.35,0.72],[-0.24,0.81],[-0.15,0.78],[-0.04,0.66],[0.1,0.45],[0.22,0.38],[0.35,0.55],[0.53,0.81],[0.75,0.82],[0.89,0.76],[0.95,0.5],[1,0]]
];

// systematic-error histogram heights per bin (sysBinEdges)
const sysErr = [
 [0.006,0.015,0.024,0.05],[0.006,0.012,0.024,0.045],[0.006,0.012,0.015,0.045],[0.05,0.024,0.015,0.024],
 [0.05,0.03,0.03,0.045],[0.04,0.012,0.024,0.04],[0.012,0.024,0.024,0.045],[0.012,0.03,0.024,0.045],
 [0.012,0.03,0.024,0.045],[0.012,0.03,0.024,0.045],[0.012,0.03,0.024,0.045],[0.012,0.03,0.024,0.045],
 [0.003,0.006,0.006,0.05],[0.003,0.006,0.006,0.05],[0.006,0.012,0.012,0.012],[0.006,0.012,0.012,0.012]
];

// ---------------- layout ----------------
const PX0 = 99, PY0 = 7, PW = 258.75, PH = 266.75;
const GREEN = '#2fe62f', BLUE = '#1212f0', RED = '#f21818';
const SANS = 'Liberation Sans, Arial, sans-serif';
const fmt = v => (v < 0 ? '\u2212' : '') + String(Math.abs(v));
// tick lengths in pixels
const Y_MAJOR_LEN = 19, Y_MINOR_LEN = 10, X_MAJOR_LEN = 18;

const mctx = document.createElement('canvas').getContext('2d');
const measure = (txt, font) => { mctx.font = font; return mctx.measureText(txt).width; };

const grids = [], xAxes = [], yAxes = [], series = [], graphics = [];
for (let i = 0; i < 16; i++) {
  const r = Math.floor(i / 4), c = i % 4;
  const left = PX0 + c * PW, top = PY0 + r * PH;
  grids.push({left, top, width: PW, height: PH, show: true, borderColor: '#000', borderWidth: 2.5, backgroundColor: 'rgba(0,0,0,0)'});
  xAxes.push({gridIndex: i, type: 'value', position: 'bottom', min: -1, max: 1, interval: 0.5,
    axisLine: {show: false, onZero: false}, splitLine: {show: false}, axisTick: {show: false},
    axisLabel: {show: r === 3, customValues: c === 0 ? xLabelsFirstCol : xLabelsOtherCols, formatter: fmt,
      fontSize: 27, color: '#000', fontFamily: SANS, margin: 21}});
  yAxes.push({gridIndex: i, type: 'value', position: 'left', min: -1.2, max: 1.2,
    axisLine: {show: false, onZero: false}, splitLine: {show: false}, axisTick: {show: false},
    axisLabel: {show: c === 0, customValues: yMajorTicks, formatter: fmt, fontSize: 30, color: '#000',
      fontFamily: SANS, margin: 20}});
  const ax = {xAxisIndex: i, yAxisIndex: i};
  // inside ticks drawn through the axis scales
  const tickData = yMajorTicks.map(v => [v, 0]).concat(yMinorTicks.map(v => [v, 1])).concat(xMajorTicks.map(v => [v, 2]));
  series.push(Object.assign({type: 'custom', data: tickData, silent: true, z: 8, clip: false,
    renderItem: (params, api) => {
      const v = api.value(0), kind = api.value(1);
      if (kind === 2) {
        const p = api.coord([v, -1.2]);
        return {type: 'line', shape: {x1: p[0], y1: p[1], x2: p[0], y2: p[1] - X_MAJOR_LEN}, style: {stroke: '#000', lineWidth: 2.5}};
      }
      const p = api.coord([-1, v]);
      const L = kind === 0 ? Y_MAJOR_LEN : Y_MINOR_LEN;
      return {type: 'line', shape: {x1: p[0], y1: p[1], x2: p[0] + L, y2: p[1]}, style: {stroke: '#000', lineWidth: 2.5}};
    }}, ax));
  // zero line
  series.push(Object.assign({type: 'line', data: [[-1, 0], [1, 0]], showSymbol: false, silent: true, z: 1,
    lineStyle: {color: '#000', width: 1.5, type: [7, 5]}}, ax));
  // systematic histogram
  const h = sysErr[i], pts = [];
  for (let k = 0; k < 4; k++) {
    pts.push([sysBinEdges[k], -1.2 + h[k]]);
    pts.push([sysBinEdges[k + 1], -1.2 + h[k]]);
  }
  pts.push([sysBinEdges[4], -1.2]);
  series.push(Object.assign({type: 'line', data: pts, showSymbol: false, silent: true, z: 1,
    lineStyle: {color: '#333', width: 1.5}}, ax));
  const curve = (d, color, w, dashed, z) => Object.assign({type: 'line', data: d, showSymbol: false, silent: true,
    smooth: 0.35, smoothMonotone: 'x', z, lineStyle: {color, width: w, type: dashed ? [9, 6] : 'solid'}}, ax);
  series.push(curve(greenDashed[i], GREEN, 3.6, true, 2));
  series.push(curve(greenSolid[i], GREEN, 2.6, false, 3));
  series.push(curve(blueDashed[i], BLUE, 3.6, true, 4));
  series.push(curve(blueSolid[i], BLUE, 2.4, false, 5));
  // error bars
  series.push(Object.assign({type: 'custom', data: dataPts[i], z: 6, silent: true,
    encode: {x: 0, y: 1},
    renderItem: (params, api) => {
      const x = api.value(0), y = api.value(1), e = api.value(2);
      const p1 = api.coord([x, y - e]), p2 = api.coord([x, y + e]);
      return {type: 'line', shape: {x1: p1[0], y1: p1[1], x2: p2[0], y2: p2[1]}, style: {stroke: '#000', lineWidth: 3}};
    }}, ax));
  series.push(Object.assign({type: 'scatter', data: dataPts[i].map(p => [p[0], p[1]]), symbolSize: 11, z: 7, silent: true,
    itemStyle: {color: RED, opacity: 1}}, ax));
  // energy label: E, subscript gamma, "=... MeV", right aligned
  const R = left + 234, base = top + 234;
  const rest = '=' + energies[i] + ' MeV';
  const fMain = '23px Liberation Sans', fSub = '16px DejaVu Sans';
  const wRest = measure(rest, fMain), wSub = measure('\u03b3', fSub);
  graphics.push({type: 'text', x: R, y: base, z: 50, style: {text: rest, font: fMain, fill: '#000', align: 'right', verticalAlign: 'bottom'}});
  graphics.push({type: 'text', x: R - wRest + 0.5, y: base + 6, z: 50, style: {text: '\u03b3', font: fSub, fill: '#000', align: 'right', verticalAlign: 'bottom'}});
  graphics.push({type: 'text', x: R - wRest - wSub + 1.5, y: base, z: 50, style: {text: 'E', font: fMain, fill: '#000', align: 'right', verticalAlign: 'bottom'}});
}

// annotation ellipses
const ellipses = [[107, 948, 48, 45], [377.5, 948, 47.5, 45], [761.5, 873.5, 56.5, 50.5], [1021.5, 874, 55.5, 51]];
ellipses.forEach(e => graphics.push({type: 'ellipse', z: 90, shape: {cx: e[0], cy: e[1], rx: e[2], ry: e[3]},
  style: {fill: 'none', stroke: '#ee66ee', lineWidth: 3.2}}));

// overlay box
graphics.push({type: 'rect', z: 95, shape: {x: 36, y: 692, width: 1068, height: 98},
  style: {fill: '#fff', stroke: '#1a72bb', lineWidth: 3}});
graphics.push({type: 'text', z: 96, x: 56, y: 744, scaleX: 1.2,
  style: {text: '{k|Not well matched yet at }{r|higher energies}{k|.}', align: 'left', verticalAlign: 'middle',
    rich: {k: {fill: '#000', fontSize: 53, fontFamily: 'Liberation Serif, Times New Roman, serif'},
           r: {fill: '#ff0000', fontSize: 53, fontFamily: 'Liberation Serif, Times New Roman, serif'}}}});

// x-axis title
graphics.push({type: 'text', z: 50, x: 566, y: 1163, scaleX: 1.13, style: {text: 'cos\u03d1', fontSize: 32, fontFamily: 'DejaVu Sans, sans-serif', fill: '#000', align: 'left', verticalAlign: 'middle'}});
graphics.push({type: 'text', z: 50, x: 652, y: 1178, style: {text: '\u03c0', fontSize: 18, fontWeight: 'bold', fontFamily: 'DejaVu Sans, sans-serif', fill: '#000', align: 'left', verticalAlign: 'middle'}});
graphics.push({type: 'text', z: 50, x: 668, y: 1150, style: {text: 'c.m.', fontSize: 18, fontWeight: 'bold', fontFamily: 'DejaVu Sans, sans-serif', fill: '#000', align: 'left', verticalAlign: 'middle'}});

const chart = echarts.init(document.getElementById('c'), null, {renderer: 'canvas'});
chart.setOption({animation: false, backgroundColor: '#fff', grid: grids, xAxis: xAxes, yAxis: yAxes, series, graphic: graphics});
</script></body></html>
